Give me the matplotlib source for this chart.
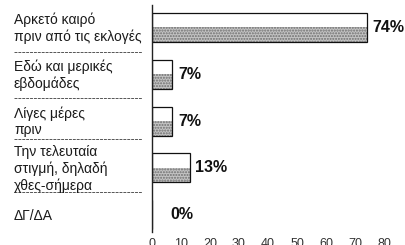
import matplotlib
matplotlib.use("Agg")
import matplotlib.pyplot as plt
from matplotlib.transforms import blended_transform_factory

# data
categories = [
    "Αρκετό καιρό\nπριν από τις εκλογές",
    "Εδώ και μερικές\nεβδομάδες",
    "Λίγες μέρες\nπριν",
    "Την τελευταία\nστιγμή, δηλαδή\nχθες-σήμερα",
    "ΔΓ/ΔΑ",
]
values = [74, 7, 7, 13, 0]
xticks = [0, 10, 20, 30, 40, 50, 60, 70, 80]

plt.rcParams["font.family"] = ["Liberation Sans", "DejaVu Sans"]

fig = plt.figure(figsize=(4.06, 2.45), dpi=100)
ax = fig.add_axes([152 / 406, 13 / 245, 232 / 406, 227 / 245])

ypos = list(range(len(values)))
h = 0.62
# lower half speckled grey, full bar outlined
ax.barh([y + h / 4 for y in ypos], values, height=h / 2, color="#c4c4c4",
        edgecolor="#6e6e6e", hatch="......", lw=0)
ax.barh(ypos, values, height=h, fill=False, edgecolor="#111111", lw=0.9)

for y, v in zip(ypos, values):
    ax.text(max(v, 4.5) + 2.0, y, f"{v}%", va="center", ha="left",
            fontsize=11.5, fontweight="bold", color="#111111")

ax.set_xlim(0, 80)
ax.set_ylim(len(values) - 1 + 0.37, -0.48)
ax.set_xticks(xticks)
ax.set_yticks([])
ax.tick_params(axis="x", length=0, pad=4, labelsize=9, colors="#333333")
for s in ("top", "right", "bottom"):
    ax.spines[s].set_visible(False)
ax.spines["left"].set_color("#222222")
ax.spines["left"].set_linewidth(1.0)

tr = blended_transform_factory(fig.transFigure, ax.transData)
for y, lab in zip(ypos, categories):
    ax.text(14 / 406, y + 0.02, lab, transform=tr, ha="left", va="center",
            fontsize=10, linespacing=1.2, color="#1a1a1a")

# dashed separators between categories
for ys in [0.52, 1.5, 2.38, 3.52]:
    ax.plot([14 / 406, 142 / 406], [ys, ys], transform=tr, ls=(0, (3, 1)),
            color="#555555", lw=0.7, clip_on=False)

fig.savefig("out.png", dpi=100)
